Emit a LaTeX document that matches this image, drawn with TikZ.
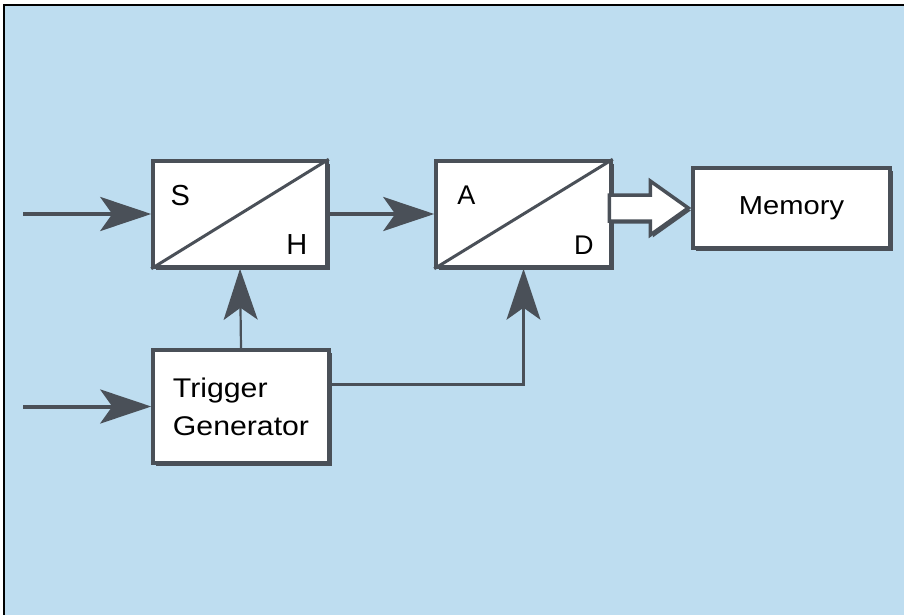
\documentclass[tikz,border=0pt]{standalone}
\usepackage{fontspec}
\setmainfont{Liberation Sans}
\usetikzlibrary{arrows.meta,calc,shadows}

\definecolor{paneblue}{RGB}{190,221,240}
\definecolor{edgegray}{RGB}{74,80,88}

\newcommand{\wide}[1]{\scalebox{1.12}[1]{#1}}

\tikzset{
  box/.style={draw=edgegray, line width=1.75pt, fill=white, inner sep=0pt,
    drop shadow={shadow xshift=1.25pt, shadow yshift=-1.25pt, opacity=1, fill=edgegray}},
  sig/.style={color=edgegray, line width=2pt,
    -{Stealth[length=25.5pt,width=17pt,inset=6pt]}},
  ctl/.style={sig, line width=1.1pt},
  hollow/.style={draw=edgegray, line width=1.75pt, fill=white, line join=miter,
    drop shadow={shadow xshift=1.25pt, shadow yshift=-1.25pt, opacity=1, fill=edgegray}},
  lbl/.style={inner sep=0pt, font=\fontsize{14.5}{16}\selectfont},
}

\begin{document}
\begin{tikzpicture}[x=0.5pt,y=-0.5pt]
  \useasboundingbox (0,0) rectangle (904,615);
  \fill[white] (0,0) rectangle (904,615);
  \fill[paneblue] (4,5) rectangle (904,615);
  \draw[line width=1pt] (4,615) -- (4,5) -- (904,5);

  % blocks
  \node[box, minimum width=87pt, minimum height=53pt] (sh) at (240,214) {};
  \node[box, minimum width=87.5pt, minimum height=53pt] (ad) at (523.5,214) {};
  \node[box, minimum width=88pt, minimum height=56.5pt, align=left,
    font=\fontsize{13.5}{19}\selectfont] (tg) at (241,406.5)
    {\wide{Trigger}\\\wide{Generator}};
  \draw[edgegray, line width=1.5pt] (sh.south west) -- (sh.north east);
  \draw[edgegray, line width=1.5pt] (ad.south west) -- (ad.north east);
  \node[lbl] (s) at ($(sh.north west)+(29,36)$) {S};
  \node[lbl] (h) at ($(sh.south east)+(-32,-24)$) {H};
  \node[lbl, font=\fontsize{13.5}{16}\selectfont] (a) at ($(ad.north west)+(32,36)$) {A};
  \node[lbl, font=\fontsize{13.5}{16}\selectfont] (d) at ($(ad.south east)+(-29,-24)$) {D};

  % bus to memory
  \node[box, minimum width=98.5pt, minimum height=40pt,
    font=\fontsize{13}{16}\selectfont] (mem) at (791.5,208) {\wide{Memory}};
  \coordinate (bt) at ($(mem.west)+(-3,0)$);
  \draw[hollow] (bt) -- ++(-38,-27) -- ++(0,14) -- ++(-41,0) -- ++(0,26)
    -- ++(41,0) -- ++(0,14) -- cycle;

  % signal paths
  \coordinate (in1) at (23,214);
  \coordinate (in2) at (23,406.5);
  \draw[sig] (in1) -- (sh.west);
  \draw[sig] (in2) -- (tg.west);
  \draw[sig] (sh.east) -- (ad.west);
  \draw[ctl] (tg.north) -- (sh.south);
  \draw[ctl] ($(tg.east)+(0,-22)$) -| (ad.south);
\end{tikzpicture}
\end{document}
